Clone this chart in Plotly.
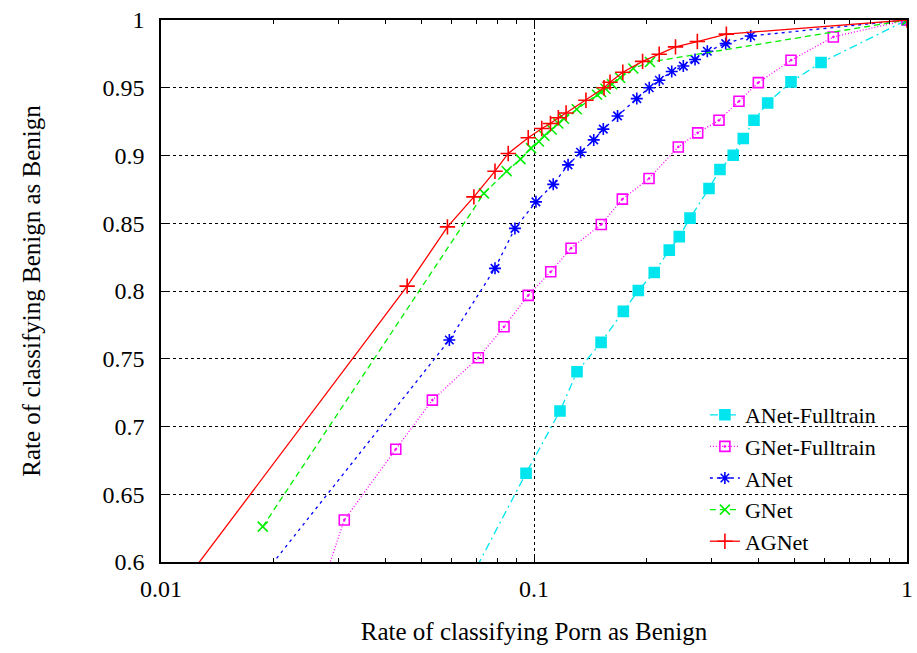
import plotly.graph_objects as go

# ---- data ----
anet_full_x = [0.0573, 0.0952, 0.1174, 0.1304, 0.1513, 0.1736, 0.1904, 0.2101, 0.2305, 0.2452,
               0.2620, 0.2946, 0.3152, 0.3421, 0.3640, 0.3888, 0.4232, 0.4887, 0.5882, 1.0]
anet_full_y = [0.550, 0.6655, 0.7114, 0.7404, 0.7621, 0.7850, 0.8004, 0.8137, 0.8302, 0.8401,
               0.8538, 0.8757, 0.8897, 0.9002, 0.9125, 0.9260, 0.9388, 0.9543, 0.9686, 1.0]

gnet_full_x = [0.0247, 0.0310, 0.0426, 0.0534, 0.0709, 0.0831, 0.0965, 0.1109, 0.1257, 0.1515,
               0.1725, 0.2034, 0.2437, 0.2747, 0.3133, 0.3544, 0.3994, 0.4887, 0.6345, 1.0]
gnet_full_y = [0.550, 0.6310, 0.6832, 0.7195, 0.7507, 0.7736, 0.7968, 0.8142, 0.8316, 0.8491,
               0.8678, 0.8830, 0.9063, 0.9167, 0.9260, 0.9400, 0.9538, 0.9703, 0.9875, 1.0]

anet_x = [0.0144, 0.0593, 0.0786, 0.0889, 0.1012, 0.1126, 0.1234, 0.1333, 0.1446, 0.1534,
          0.1675, 0.1886, 0.2037, 0.2168, 0.2340, 0.2514, 0.2702, 0.2915, 0.3265, 0.3810, 1.0]
anet_y = [0.550, 0.7638, 0.8167, 0.8462, 0.8658, 0.8787, 0.8931, 0.9024, 0.9115, 0.9195,
          0.9292, 0.9420, 0.9500, 0.9555, 0.9620, 0.9660, 0.9708, 0.9769, 0.9826, 0.9882, 1.0]

gnet_x = [0.01874, 0.0734, 0.0845, 0.0920, 0.0982, 0.1031, 0.1066, 0.1115, 0.1162, 0.1203,
          0.1302, 0.1476, 0.1513, 0.1555, 0.1619, 0.1701, 0.1846, 0.2046, 1.0]
gnet_y = [0.6261, 0.8720, 0.8884, 0.8973, 0.9054, 0.9103, 0.9146, 0.9192, 0.9236, 0.9271,
          0.9341, 0.9448, 0.9469, 0.9493, 0.9526, 0.9574, 0.9642, 0.9690, 1.0]

agnet_x = [0.00925, 0.0457, 0.0586, 0.0690, 0.0786, 0.0853, 0.0965, 0.1049, 0.1107, 0.1162,
           0.1219, 0.1378, 0.1541, 0.1599, 0.1730, 0.1955, 0.2166, 0.2395, 0.2741, 0.3279, 1.0]
agnet_y = [0.550, 0.8036, 0.8473, 0.8695, 0.8884, 0.9015, 0.9131, 0.9199, 0.9236, 0.9279,
           0.9314, 0.9408, 0.9500, 0.9541, 0.9614, 0.9695, 0.9747, 0.9802, 0.9841, 0.9896, 1.0]

series_names = ["ANet-Fulltrain", "GNet-Fulltrain", "ANet", "GNet", "AGNet"]
x_title = "Rate of classifying Porn as Benign"
y_title = "Rate of classifying Benign as Benign"

FONT = "Liberation Serif"

fig = go.Figure()

styles = [
    (anet_full_x, anet_full_y, "#00e5ee", "8px,4px,2px,4px", "square", 10),
    (gnet_full_x, gnet_full_y, "#ff00ff", "1px,2px", "square-open-dot", 10),
    (anet_x, anet_y, "#0000ff", "3px,4px", "asterisk-open", 10),
    (gnet_x, gnet_y, "#00ee00", "6px,4px", "x-thin-open", 10),
    (agnet_x, agnet_y, "#ff0000", "solid", "cross-thin-open", 11),
]

for name, (xs, ys, col, dash, sym, sz) in zip(series_names, styles):
    fig.add_trace(go.Scatter(
        x=xs, y=ys, name=name, mode="lines+markers",
        line=dict(color=col, width=1.3, dash=dash),
        marker=dict(symbol=sym, size=sz, color=col, line=dict(color=col, width=1.6)),
    ))

# opaque key box: hides the grid lines behind the key, stays under the data
# (log axis -> shape x given as log10 values)
fig.add_shape(type="rect", xref="x", yref="y",
              x0=-1.0188, x1=-0.0456, y0=0.6, y1=0.7136,
              fillcolor="white", line=dict(width=0), layer="between")

fig.update_layout(
    width=917, height=653,
    margin=dict(l=161, r=10, t=20, b=91),
    paper_bgcolor="white", plot_bgcolor="white",
    font=dict(family=FONT, size=24, color="black"),
    showlegend=True,
    legend=dict(
        x=0.965, xanchor="right", y=0.0, yanchor="bottom",
        bgcolor="rgba(0,0,0,0)", borderwidth=0,
        font=dict(family=FONT, size=22),
        traceorder="normal",
    ),
    xaxis=dict(
        type="log", range=[-2, 0], dtick=1, automargin=False,
        showline=True, linecolor="black", linewidth=1.5, mirror="ticks",
        ticks="inside", ticklen=8, tickwidth=1, tickcolor="black",
        showgrid=True, gridcolor="black", griddash="dot", gridwidth=1,
        zeroline=False,
        minor=dict(ticks="inside", ticklen=4, tickcolor="black", dtick="D1", showgrid=False),
        tickfont=dict(family=FONT, size=24),
        ticklabelstandoff=4,
        title=dict(text=x_title, font=dict(family=FONT, size=25), standoff=22),
    ),
    yaxis=dict(
        range=[0.6, 1.0], dtick=0.05, tick0=0.6, automargin=False,
        showline=True, linecolor="black", linewidth=1.5, mirror="ticks",
        ticks="inside", ticklen=7, tickwidth=1, tickcolor="black",
        showgrid=True, gridcolor="black", griddash="dot", gridwidth=1,
        zeroline=False,
        tickfont=dict(family=FONT, size=24),
        ticklabelstandoff=10,
        title=dict(text=y_title, font=dict(family=FONT, size=25), standoff=55),
    ),
)

fig.write_html("out.html", config={"displayModeBar": False},
               post_script="document.body.style.margin='0px';")
